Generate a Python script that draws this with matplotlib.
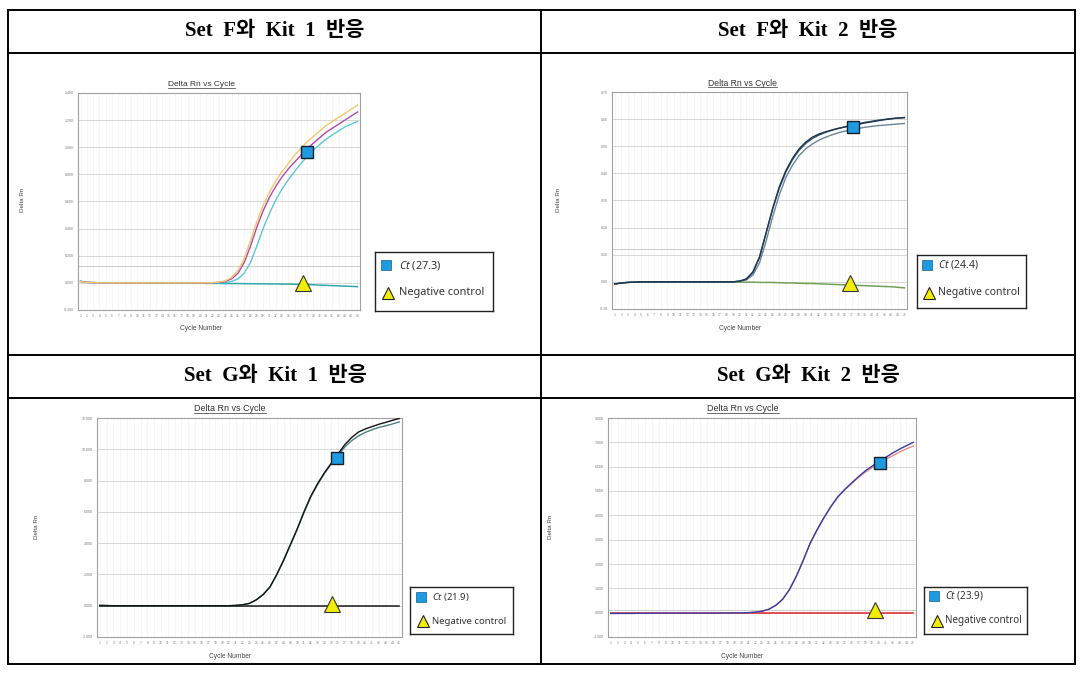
import matplotlib
matplotlib.use("Agg")
import matplotlib.pyplot as plt
from matplotlib.lines import Line2D

W, H = 1081, 673

plt.rcParams['font.family'] = ['Liberation Sans', 'DejaVu Sans']
plt.rcParams['mathtext.fontset'] = 'custom'
plt.rcParams['mathtext.it'] = 'Noto Sans:italic'
plt.rcParams['mathtext.rm'] = 'Noto Sans'

# ---- data ----
cycles = list(range(1, 46))

headers = ["Set F와 Kit 1 반응", "Set F와 Kit 2 반응",
           "Set G와 Kit 1 반응", "Set G와 Kit 2 반응"]
ct_values = ["27.3", "24.4", "21.9", "23.9"]

# Set F / Kit 1
f1_yellow = [0.010, 0.004, 0.002, 0.001] + [0.0] * 17 + [
    0.002, 0.006, 0.015, 0.04, 0.09, 0.18, 0.31, 0.45, 0.57, 0.67, 0.75, 0.82,
    0.88, 0.94, 0.99, 1.04, 1.08, 1.12, 1.16, 1.19, 1.22, 1.25, 1.28, 1.31]
f1_magenta = [0.010, 0.004, 0.002, 0.001] + [0.0] * 17 + [
    0.001, 0.004, 0.01, 0.03, 0.07, 0.15, 0.27, 0.41, 0.53, 0.63, 0.71, 0.78,
    0.84, 0.89, 0.94, 0.99, 1.03, 1.07, 1.11, 1.14, 1.17, 1.20, 1.23, 1.26]
f1_cyan = [0.012, 0.004, 0.002, 0.001] + [0.0] * 17 + [
    0.0, 0.001, 0.003, 0.01, 0.03, 0.07, 0.15, 0.27, 0.40, 0.51, 0.61, 0.69,
    0.76, 0.82, 0.88, 0.93, 0.98, 1.02, 1.06, 1.09, 1.12, 1.15, 1.17, 1.19]
f1_ntc = [0.012, 0.004, 0.002, 0.001, 0.001, 0.0, 0.0, 0.0, 0.0, 0.0,
          0.0, -0.001, -0.001, -0.001, -0.002, -0.002, -0.002, -0.003, -0.003, -0.003,
          -0.004, -0.004, -0.004, -0.005, -0.005, -0.005, -0.006, -0.006, -0.007, -0.007,
          -0.008, -0.008, -0.009, -0.009, -0.010, -0.011, -0.012, -0.014, -0.016, -0.018,
          -0.020, -0.022, -0.024, -0.026, -0.028]
f1_yticks = [-0.2, 0.0, 0.2, 0.4, 0.6, 0.8, 1.0, 1.2, 1.4]

# Set F / Kit 2
f2_a = [-0.008, -0.004, -0.002, -0.001] + [0.0] * 15 + [
    0.003, 0.01, 0.035, 0.09, 0.18, 0.27, 0.35, 0.41, 0.455, 0.49, 0.515, 0.533,
    0.545, 0.553, 0.560, 0.566, 0.571, 0.576, 0.581, 0.586, 0.590, 0.594, 0.598,
    0.601, 0.604, 0.606]
f2_b = [-0.008, -0.004, -0.002, -0.001] + [0.0] * 15 + [
    0.003, 0.011, 0.037, 0.092, 0.18, 0.27, 0.345, 0.405, 0.45, 0.485, 0.51, 0.528,
    0.541, 0.551, 0.559, 0.566, 0.572, 0.578, 0.583, 0.588, 0.592, 0.596, 0.599,
    0.602, 0.604, 0.605]
f2_c = [-0.008, -0.004, -0.002, -0.001] + [0.0] * 15 + [
    0.002, 0.007, 0.025, 0.07, 0.15, 0.24, 0.32, 0.385, 0.43, 0.465, 0.49, 0.508,
    0.522, 0.533, 0.542, 0.550, 0.556, 0.561, 0.566, 0.570, 0.573, 0.576, 0.578,
    0.580, 0.582, 0.584]
f2_ntc = [-0.008, -0.004, -0.002, -0.001, 0, 0, 0, 0, 0, 0,
          0, 0, 0, 0, 0, 0, 0, 0, 0, -0.001,
          -0.001, -0.001, -0.002, -0.002, -0.002, -0.003, -0.004, -0.004, -0.005, -0.006,
          -0.006, -0.007, -0.008, -0.009, -0.010, -0.011, -0.012, -0.013, -0.014, -0.015,
          -0.016, -0.017, -0.018, -0.020, -0.022]
f2_yticks = [-0.1, 0.0, 0.1, 0.2, 0.3, 0.4, 0.5, 0.6, 0.7]

# Set G / Kit 1
g1_black = [0.02, 0.01] + [0.0] * 18 + [
    0.02, 0.06, 0.15, 0.38, 0.72, 1.2, 2.0, 2.9, 3.9, 4.9, 6.0, 7.0, 7.8, 8.5,
    9.1, 9.7, 10.3, 10.75, 11.1, 11.3, 11.45, 11.6, 11.72, 11.85, 11.97]
g1_teal = [0.02, 0.01] + [0.0] * 18 + [
    0.02, 0.06, 0.15, 0.37, 0.70, 1.18, 1.97, 2.88, 3.88, 4.88, 5.95, 6.95, 7.75,
    8.45, 9.05, 9.6, 10.15, 10.55, 10.85, 11.08, 11.25, 11.4, 11.5, 11.62, 11.75]
g1_ntc = [0.0] * 45
g1_yticks = [-2, 0, 2, 4, 6, 8, 10, 12]

# Set G / Kit 2
g2_blue = [-0.03, -0.03, -0.03, -0.03, -0.025, -0.025, -0.02, -0.02, -0.02, -0.02,
           -0.02, -0.02, -0.02, -0.02, -0.02, -0.02, -0.015, -0.015, -0.01, -0.01,
           0.0, 0.02, 0.06, 0.14, 0.3, 0.55, 0.95, 1.5, 2.15, 2.85, 3.4, 3.9, 4.35,
           4.75, 5.05, 5.32, 5.58, 5.82, 6.02, 6.2, 6.38, 6.56, 6.72, 6.86, 7.0]
g2_pink = [-0.03, -0.03, -0.03, -0.03, -0.025, -0.025, -0.02, -0.02, -0.02, -0.02,
           -0.02, -0.02, -0.02, -0.02, -0.02, -0.02, -0.015, -0.015, -0.01, -0.01,
           0.0, 0.02, 0.06, 0.14, 0.3, 0.55, 0.95, 1.5, 2.15, 2.85, 3.4, 3.9, 4.35,
           4.75, 5.05, 5.3, 5.55, 5.77, 5.96, 6.13, 6.3, 6.45, 6.6, 6.73, 6.85]
g2_ntc = [0.0] * 45
g2_yticks = [-1, 0, 1, 2, 3, 4, 5, 6, 7, 8]

# Ct / negative control marker positions (cycle, value)
ct_points = [(37.0, 0.965), (37.2, 0.572), (35.8, 9.44), (40.2, 6.15)]
neg_points = [(36.4, 0.0), (36.7, -0.005), (35.1, 0.1), (39.4, 0.12)]


def fx(px):
    return px / W


def fy(py):
    return 1 - py / H


def add_axes_px(fig, x0, y0, x1, y1):
    return fig.add_axes([x0 / W, 1 - y1 / H, (x1 - x0) / W, (y1 - y0) / H])


def draw_chart(fig, box, curves, colors, ntc, ntc_color, yticks, fmt, threshold,
               ct_pt, neg_pt):
    ax = add_axes_px(fig, *box)
    ax.set_xlim(0.6, 45.4)
    ax.set_ylim(yticks[0], yticks[-1])
    for c in cycles:
        ax.axvline(c, color="#f2f2f2", lw=0.5, zorder=0)
    for y in yticks:
        ax.axhline(y, color="#d2d2d2", lw=0.6, zorder=0)
    if threshold is not None:
        ax.axhline(threshold, color="#c4c4c4", lw=0.6, zorder=0)
    ax.plot(cycles, ntc, color=ntc_color, lw=1.1, zorder=2)
    for vals, col in zip(curves, colors):
        ax.plot(cycles, vals, color=col, lw=1.0, zorder=3)
    ax.plot([ct_pt[0]], [ct_pt[1]], marker="s", ms=8.5, mfc="#1e9be0", mec="#15202a",
            mew=1.0, zorder=5, clip_on=False)
    ax.plot([neg_pt[0]], [neg_pt[1]], marker="^", ms=11, mfc="#f2ee00", mec="#333333",
            mew=0.8, zorder=5, clip_on=False)
    ax.set_xticks(cycles)
    ax.set_xticklabels([str(c) for c in cycles], fontsize=2.3, color="#777777")
    ax.set_yticks(yticks)
    ax.set_yticklabels([fmt.format(v) for v in yticks], fontsize=2.5, color="#777777")
    ax.tick_params(length=0, pad=3)
    for s in ax.spines.values():
        s.set_color("#a0a0a0")
        s.set_linewidth(0.8)
    return ax


def draw_legend(fig, box, ct, sq, tri, tx, fs):
    x0, y0, x1, y1 = box
    lax = add_axes_px(fig, x0, y0, x1, y1)
    lax.set_xlim(x0, x1)
    lax.set_ylim(y1, y0)
    lax.set_xticks([])
    lax.set_yticks([])
    for s in lax.spines.values():
        s.set_color("#222222")
        s.set_linewidth(1.0)
    lax.plot([sq[0]], [sq[1]], marker="s", ms=6.5, mfc="#1e9be0", mec="#1a5a8a", mew=0.5)
    lax.text(tx, sq[1], r"$\mathit{Ct}$ (" + ct + ")", va="center", ha="left",
             fontsize=fs, color="#333333", family="Noto Sans")
    lax.plot([tri[0]], [tri[1]], marker="^", ms=8, mfc="#f2ee00", mec="#222222", mew=0.8)
    lax.text(tx, tri[1], "Negative control", va="center", ha="left",
             fontsize=fs, color="#333333", family="Noto Sans")


def main():
    fig = plt.figure(figsize=(W / 100, H / 100), dpi=100)

    # table grid
    lw = 1.4
    for y in [10, 53, 355, 398, 664]:
        fig.add_artist(Line2D([fx(8), fx(1075)], [fy(y), fy(y)], color="black", lw=lw))
    for x in [8, 541, 1075]:
        fig.add_artist(Line2D([fx(x), fx(x)], [fy(10), fy(664)], color="black", lw=lw))

    head_pos = [(275, 31), (808, 31), (275, 376), (808, 376)]
    for (hx, hy), txt in zip(head_pos, headers):
        fig.text(fx(hx), fy(hy), txt.replace(" ", "  "), ha="center", va="center",
                 fontsize=15, fontweight="bold",
                 family=["Liberation Serif", "Noto Sans CJK KR"])

    draw_chart(fig, (78, 93, 360, 310), [f1_cyan, f1_magenta, f1_yellow],
               ["#5cc6d6", "#b04aa8", "#f2c96a"], f1_ntc, "#33a7a8",
               f1_yticks, "{:.3f}", 0.125, ct_points[0], neg_points[0])
    draw_chart(fig, (612, 92, 907, 309), [f2_c, f2_b, f2_a],
               ["#6a8598", "#2e5a6e", "#1f3450"], f2_ntc, "#73a058",
               f2_yticks, "{:.2f}", 0.12, ct_points[1], neg_points[1])
    draw_chart(fig, (97, 418, 402, 637), [g1_teal, g1_black],
               ["#4a8080", "#141414"], g1_ntc, "#1a1a1a",
               g1_yticks, "{:.3f}", None, ct_points[2], neg_points[2])
    draw_chart(fig, (608, 418, 916, 637), [g2_pink, g2_blue],
               ["#e88a8a", "#3a3aa0"], g2_ntc, "#e02424",
               g2_yticks, "{:.3f}", 0.1, ct_points[3], neg_points[3])

    titles = []
    for (tx, ty), fs in zip([(201, 85), (742, 83), (230, 409), (743, 409)],
                            [6, 6.2, 6.5, 6.5]):
        titles.append(fig.text(fx(tx), fy(ty), "Delta Rn vs Cycle", ha="center",
                               va="center", fontsize=fs, color="#333333"))
    for (tx, ty) in [(201, 328), (740, 328), (230, 656), (742, 656)]:
        fig.text(fx(tx), fy(ty), "Cycle Number", ha="center", va="center",
                 fontsize=4.8, color="#444444")
    for (tx, ty) in [(23, 200), (558, 200), (36, 527), (550, 527)]:
        fig.text(fx(tx), fy(ty), "Delta Rn", ha="center", va="center",
                 fontsize=4.5, color="#444444", rotation=90)

    draw_legend(fig, (375, 252, 493, 311), ct_values[0], (386, 265), (388, 293), 399, 7.9)
    draw_legend(fig, (917, 255, 1026, 308), ct_values[1], (927, 265), (929, 293), 938, 7.5)
    draw_legend(fig, (410, 587, 513, 634), ct_values[2], (421, 597), (423, 621), 432, 6.9)
    draw_legend(fig, (924, 587, 1027, 634), ct_values[3], (934, 596), (937, 621), 945, 7.1)

    # underline chart titles
    fig.canvas.draw()
    for t in titles:
        bb = t.get_window_extent()
        fig.add_artist(Line2D([bb.x0 / W, bb.x1 / W], [(bb.y0 + 0.5) / H, (bb.y0 + 0.5) / H],
                              color="#333333", lw=0.5))

    fig.savefig("out.png", dpi=100)


main()
